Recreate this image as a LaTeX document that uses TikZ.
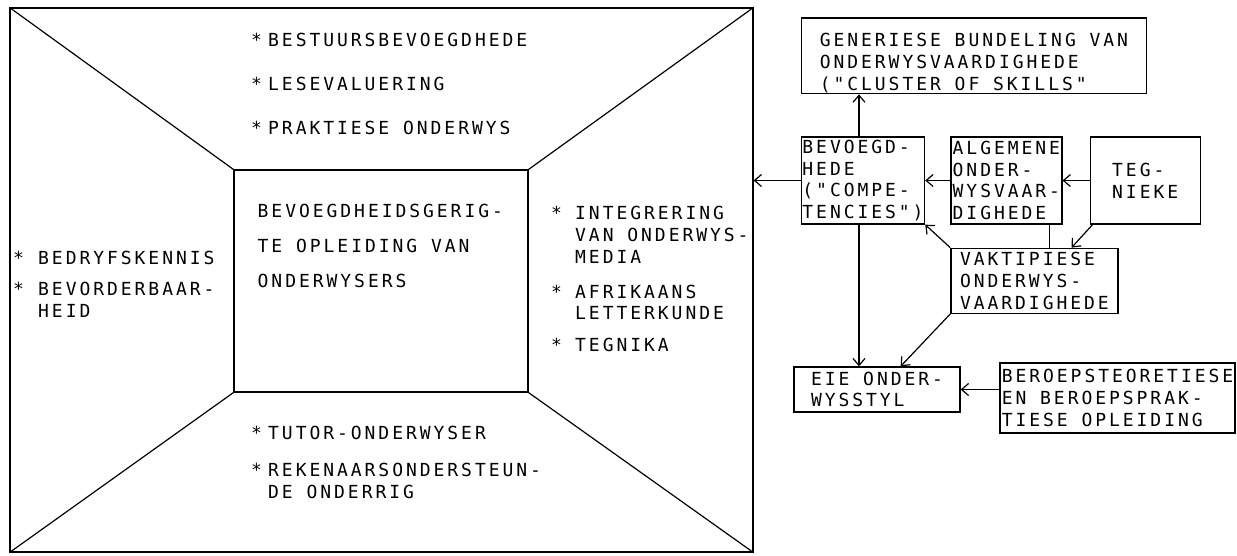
\documentclass[tikz,border=0pt]{standalone}
\usepackage{fontspec}
\newfontfamily\plotfont[LetterSpace=16.4]{DejaVu Sans Mono}
\usetikzlibrary{arrows.meta, positioning}
\newcommand{\plotteks}{\plotfont\fontsize{18}{21.7}\selectfont}
\newcommand{\punt}[1]{\makebox[#1][l]{*}}
\newcommand{\inspring}[1]{\hspace*{#1}}
\tikzstyle{raam} = [draw, line width=1.2pt, inner sep=0pt]
\tikzstyle{kas} = [draw, line width=1.3pt, align=left, inner sep=1pt, font=\plotteks]
\tikzstyle{teks} = [align=left, inner sep=0pt, anchor=west, font=\plotteks]
\tikzstyle{lyn} = [line width=1.2pt]
\tikzstyle{pyl} = [line width=1.2pt, -{Straight Barb[length=7pt, width=12pt]}]

\begin{document}
\begin{tikzpicture}[x=1pt, y=-1pt]
        \useasboundingbox (0,0) rectangle (1237,555);

        % Frame with the inner block and the four side panels
        \node (raam) [raam, minimum width=743pt, minimum height=544pt] at (381.5,280) {};
        \node (kern) [raam, minimum width=294pt, minimum height=222pt] at (381,281) {};
        \draw [lyn] (raam.north west) -- (kern.north west);
        \draw [lyn] (raam.north east) -- (kern.north east);
        \draw [lyn] (raam.south west) -- (kern.south west);
        \draw [lyn] (raam.south east) -- (kern.south east);

        % Text in the panels
        \node (bo) [teks] at (251,84) {\punt{17pt}BESTUURSBEVOEGDHEDE\\[22.3pt]\punt{17pt}LESEVALUERING\\[22.3pt]\punt{17pt}PRAKTIESE ONDERWYS};
        \node (middel) [teks] at (257.5,246) {BEVOEGDHEIDSGERIG-\\[13.3pt]TE OPLEIDING VAN\\[13.3pt]ONDERWYSERS};
        \node (regs) [teks] at (551,279) {\punt{24pt}INTEGRERING\\\inspring{24pt}VAN ONDERWYS-\\\inspring{24pt}MEDIA\\[13.3pt]\punt{24pt}AFRIKAANS\\\inspring{24pt}LETTERKUNDE\\[10pt]\punt{24pt}TEGNIKA};
        \node (links) [teks] at (13,284.3) {\punt{25pt}BEDRYFSKENNIS\\[9.5pt]\punt{25pt}BEVORDERBAAR-\\\inspring{25pt}HEID};
        \node (onder) [teks] at (251,462.5) {\punt{17pt}TUTOR-ONDERWYSER\\[15pt]\punt{17pt}REKENAARSONDERSTEUN-\\\inspring{17pt}DE ONDERRIG};

        % Boxes on the right
        \node (bev) [kas, minimum width=112pt, minimum height=87pt] at (863,180.5) {BEVOEGD-\\HEDE\\("COMPE-\\TENCIES")};
        \node (alg) [kas, right=25pt of bev, minimum width=111pt, minimum height=87pt] {ALGEMENE\\ONDER-\\WYSVAAR-\\DIGHEDE};
        \node (teg) [kas, right=27pt of alg, minimum width=110pt, minimum height=87pt] {TEG-\\NIEKE};
        \node (gen) [kas, above=42pt of bev.north west, anchor=south west, minimum width=345pt] {\rule{0pt}{28pt}GENERIESE BUNDELING VAN\\ONDERWYSVAARDIGHEDE\\("CLUSTER OF SKILLS"};
        \node (vak) [kas, below=23pt of alg.south west, anchor=north west, minimum width=167pt, minimum height=65pt] {VAKTIPIESE\\ONDERWYS-\\VAARDIGHEDE};
        \node (eie) [kas, minimum width=166pt, minimum height=45pt] at (877,389.5) {EIE ONDER-\\WYSSTYL};
        \node (ber) [kas, minimum width=235pt, minimum height=70pt] at (1117.5,398) {BEROEPSTEORETIESE\\EN BEROEPSPRAK-\\TIESE OPLEIDING};

        % Arrows
        \draw [pyl] (bev.west) -- (bev.west -| raam.east);
        \draw [pyl] ([xshift=-4pt]bev.north) -- ([xshift=-4pt]bev.north |- gen.south);
        \draw [pyl] (alg) -- (bev);
        \draw [pyl] (teg) -- (alg);
        \draw [lyn] ([xshift=-13pt]alg.south east) -- ([xshift=-13pt]alg.south east |- vak.north);
        \draw [pyl] ([xshift=3pt]teg.south west) -- ([xshift=-47pt]vak.north east);
        \draw [pyl] (vak.north west) -- (bev.south east);
        \draw [pyl] (vak.south west) -- ([xshift=-60pt]eie.north east);
        \draw [pyl] ([xshift=-4pt]bev.south) -- ([xshift=-4pt]bev.south |- eie.north);
        \draw [pyl] (ber.west |- eie.east) -- (eie.east);
\end{tikzpicture}
\end{document}
